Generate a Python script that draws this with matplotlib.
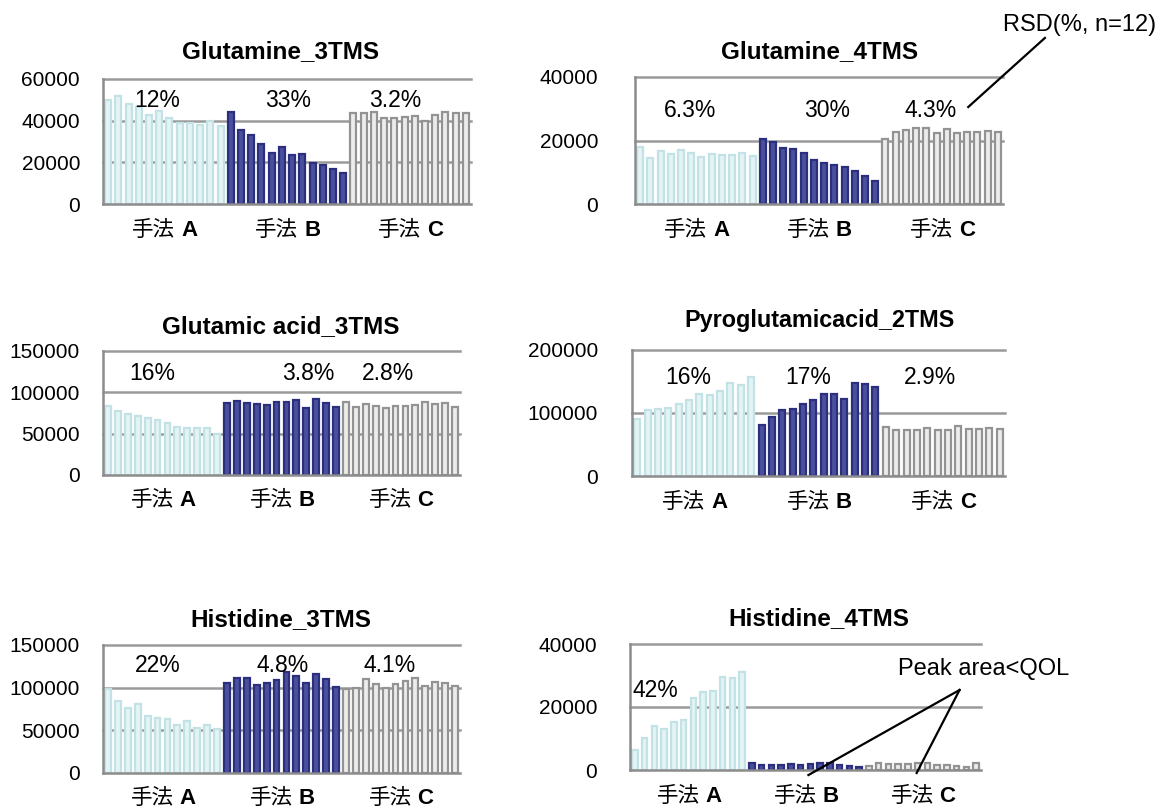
import matplotlib
matplotlib.use('Agg')
import matplotlib.pyplot as plt
import numpy as np

plt.rcParams['font.family'] = ['Liberation Sans', 'Noto Sans CJK JP']

# ---- data (peak areas, n=12 per method) ----
gln3_a = [49700, 52000, 48100, 46500, 42900, 44600, 41300, 38900, 38900, 37800, 39700, 37300]
gln3_b = [44100, 35400, 33300, 29000, 24300, 27500, 23500, 23800, 19500, 18700, 16700, 14800]
gln3_c = [43700, 43700, 44400, 41400, 41400, 41700, 42200, 39700, 42900, 44100, 43700, 43700]

gln4_a = [17950, 14500, 16800, 15750, 16900, 16050, 14800, 15650, 15300, 15400, 16050, 15200]
gln4_b = [20500, 19500, 17650, 17300, 16050, 13750, 12900, 12400, 11650, 10500, 8900, 7350]
gln4_c = [20600, 22700, 23200, 23900, 23900, 22400, 23700, 22400, 22800, 22600, 23100, 22700]

glu3_a = [83900, 77400, 74200, 71400, 68500, 66100, 62900, 58500, 57300, 56900, 56500, 49000]
glu3_b = [86700, 89500, 87500, 85500, 84300, 88700, 88700, 90700, 81500, 91500, 87500, 81900]
glu3_c = [87900, 82700, 85500, 83500, 81000, 83500, 83500, 84700, 88700, 85900, 86700, 82700]

pyro2_a = [91000, 104200, 106800, 107900, 113700, 120000, 130500, 128900, 134700, 147400, 144700, 157900]
pyro2_b = [81600, 93700, 104200, 105800, 114700, 120000, 129500, 129500, 121600, 147400, 145300, 141100]
pyro2_c = [77900, 73700, 73700, 73700, 76300, 73700, 73700, 79500, 75300, 75300, 76300, 75300]

his3_a = [98000, 84500, 76200, 81000, 66700, 63900, 62700, 56000, 60700, 52800, 56000, 51600]
his3_b = [105200, 111100, 111900, 103200, 106000, 109100, 117900, 113900, 105200, 116300, 109900, 101200]
his3_c = [98000, 99200, 109900, 104400, 99200, 104400, 108300, 111100, 102000, 107100, 105200, 102400]

his4_a = [6350, 10300, 14000, 13100, 15200, 15900, 23000, 24700, 25200, 29600, 29300, 31000]
his4_b = [2100, 1700, 1700, 1600, 1900, 1500, 1900, 2300, 2100, 1600, 1200, 1050]
his4_c = [1400, 2100, 1900, 1900, 1900, 2100, 2100, 1700, 1700, 1400, 1050, 2300]

titles = ['Glutamine_3TMS', 'Glutamine_4TMS', 'Glutamic acid_3TMS',
          'Pyroglutamicacid_2TMS', 'Histidine_3TMS', 'Histidine_4TMS']
methods = ['A', 'B', 'C']
rsd_labels = [['12%', '33%', '3.2%'], ['6.3%', '30%', '4.3%'], ['16%', '3.8%', '2.8%'],
              ['16%', '17%', '2.9%'], ['22%', '4.8%', '4.1%'], ['42%']]
series = [(gln3_a, gln3_b, gln3_c), (gln4_a, gln4_b, gln4_c), (glu3_a, glu3_b, glu3_c),
          (pyro2_a, pyro2_b, pyro2_c), (his3_a, his3_b, his3_c), (his4_a, his4_b, his4_c)]
yticks = [[0, 20000, 40000, 60000], [0, 20000, 40000], [0, 50000, 100000, 150000],
          [0, 100000, 200000], [0, 50000, 100000, 150000], [0, 20000, 40000]]

# ---- layout (pixels in a 1161x809 figure) ----
W, H = 1161, 809
boxes = [(103, 471, 79, 204), (635, 1003, 77, 204), (103, 460, 351, 475),
         (632, 1005, 350, 476), (103, 460, 645, 773), (630, 981, 644, 770)]
title_pos = [(281, 52), (820, 52), (281, 327), (819, 320), (281, 620), (819, 619)]
title_size = [17.5, 17.5, 17.5, 16.8, 17.5, 17.5]
tick_pad = [16.5, 26.5, 16.5, 24.5, 16.5, 23.5]
rsd_x = [[4.8, 17.6, 28.1], [4.9, 18.3, 28.4], [4.5, 20.2, 28.2],
         [4.9, 16.5, 28.3], [5.0, 17.6, 28.4], [2.1]]
rsd_yfrac = [0.83, 0.74, 0.82, 0.78, 0.84, 0.63]

face = ['#e4f3f4', '#4b509c', '#ececec']
edge = ['#c3e2e5', '#2b2f7e', '#939393']
grid_c = '#9a9a9a'

fig = plt.figure(figsize=(W / 100, H / 100), dpi=100)

axes = []
for i, (l, r, t, b) in enumerate(boxes):
    ax = fig.add_axes([l / W, 1 - b / H, (r - l) / W, (b - t) / H])
    axes.append(ax)
    n = len(series[i][0])
    for g, vals in enumerate(series[i]):
        x = np.arange(n) + g * n
        ax.bar(x, vals, width=0.58, color=face[g], edgecolor=edge[g], linewidth=1.6, zorder=3)
    ax.set_xlim(-0.5, 3 * n - 0.5)
    ax.set_ylim(0, yticks[i][-1])
    ax.set_yticks(yticks[i])
    ax.set_yticklabels([str(v) for v in yticks[i]])
    ax.tick_params(axis='y', length=0, pad=tick_pad[i], labelsize=15)
    ax.set_xticks([])
    for v in yticks[i][1:]:
        ax.axhline(v, color=grid_c, lw=1.8, zorder=1, clip_on=False)
    for s in ['top', 'right']:
        ax.spines[s].set_visible(False)
    for s in ['left', 'bottom']:
        ax.spines[s].set_color('#8c8c8c')
        ax.spines[s].set_linewidth(1.8)
        ax.spines[s].set_zorder(4)

    ymax = yticks[i][-1]
    for lab, xp in zip(rsd_labels[i], rsd_x[i]):
        ax.text(xp, rsd_yfrac[i] * ymax, lab, ha='center', va='center', fontsize=16.5, zorder=5)

    for g, m in enumerate(methods):
        c = g * n + (n - 1) / 2
        ax.annotate('手法', xy=(c, 0), xytext=(11, -26), textcoords='offset pixels',
                    ha='right', va='center', fontsize=15.5, annotation_clip=False)
        ax.annotate(m, xy=(c, 0), xytext=(17, -26), textcoords='offset pixels',
                    ha='left', va='center', fontsize=16, fontweight='bold',
                    annotation_clip=False)

    tx, ty = title_pos[i]
    fig.text(tx / W, 1 - ty / H, titles[i], ha='center', va='center',
             fontsize=title_size[i], fontweight='bold')

# RSD callout on Glutamine_4TMS
ax = axes[1]
ax.plot([32.1, 39.6], [30550, 52300], color='black', lw=1.6, clip_on=False, zorder=6)
ax.text(43.0, 56400, 'RSD(%, n=12)', ha='center', va='center', fontsize=17)

# Peak area < QOL callout on Histidine_4TMS
ax = axes[5]
ax.plot([33.3, 17.8], [25400, -1600], color='black', lw=1.6, clip_on=False, zorder=6)
ax.plot([33.3, 28.9], [25400, -950], color='black', lw=1.6, clip_on=False, zorder=6)
ax.text(35.8, 32000, 'Peak area<QOL', ha='center', va='center', fontsize=17)

fig.savefig('out.png', dpi=100)
